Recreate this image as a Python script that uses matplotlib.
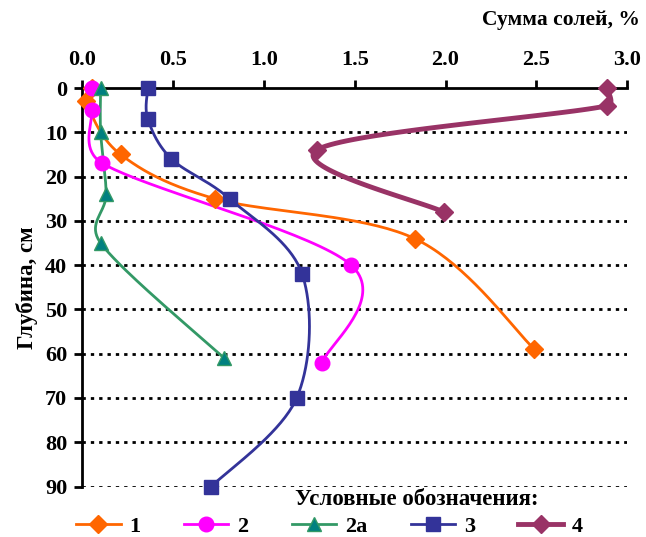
import numpy as np
import matplotlib
matplotlib.use('Agg')
import matplotlib.pyplot as plt
from matplotlib.lines import Line2D

plt.rcParams['font.family'] = ['Liberation Serif', 'DejaVu Serif']
plt.rcParams['font.weight'] = 'bold'

# данные: сумма солей (%) и глубина (см)
x1 = [0.05, 0.02, 0.21, 0.73, 1.83, 2.49]
d1 = [0, 3, 15, 25, 34, 59]
x2 = [0.05, 0.05, 0.11, 1.48, 1.32]
d2 = [0, 5, 17, 40, 62]
x2a = [0.10, 0.10, 0.13, 0.10, 0.78]
d2a = [0, 10, 24, 35, 61]
x3 = [0.36, 0.36, 0.49, 0.81, 1.21, 1.18, 0.71]
d3 = [0, 7, 16, 25, 42, 70, 90]
x4 = [2.89, 2.89, 1.29, 1.99]
d4 = [0, 4, 14, 28]

labels = ['1', '2', '2а', '3', '4']
x_ticks = [0.0, 0.5, 1.0, 1.5, 2.0, 2.5, 3.0]
y_ticks = [0, 10, 20, 30, 40, 50, 60, 70, 80, 90]


def smooth(x, y, sx=181.6, sy=4.43, n=40, clamp=0.5):
    # сглаживание как в Excel: Безье по Катмуллу-Рому,
    # ручки не длиннее половины отрезка
    pts = np.column_stack([np.asarray(x) * sx, np.asarray(y) * sy])
    m = len(pts)
    tang = np.array([(pts[min(i + 1, m - 1)] - pts[max(i - 1, 0)]) / 6 for i in range(m)])
    t = np.linspace(0, 1, n)[:, None]
    out = []
    for i in range(m - 1):
        p1, p2 = pts[i], pts[i + 1]
        L = np.hypot(*(p2 - p1))
        h1, h2 = tang[i].copy(), tang[i + 1].copy()
        for h in (h1, h2):
            nh = np.hypot(*h)
            if nh > clamp * L:
                h *= clamp * L / nh
        c1 = p1 + h1
        c2 = p2 - h2
        seg = (1 - t) ** 3 * p1 + 3 * (1 - t) ** 2 * t * c1 + 3 * (1 - t) * t ** 2 * c2 + t ** 3 * p2
        out.append(seg)
    out = np.vstack(out)
    return out[:, 0] / sx, out[:, 1] / sy


fig = plt.figure(figsize=(6.46, 5.37), dpi=100)
ax = fig.add_axes([0.1277, 0.094, 0.843, 0.742])

styles = [
    (x1, d1, '#FF6600', 'D', '#FF6600', '#FF6600', 2.0, 9),
    (x2, d2, '#FF00FF', 'o', '#FF00FF', '#FF00FF', 2.0, 10.5),
    (x2a, d2a, '#339966', '^', '#008080', '#339966', 2.0, 10.5),
    (x3, d3, '#333399', 's', '#333399', '#333399', 2.0, 10),
    (x4, d4, '#993366', 'D', '#993366', '#993366', 3.5, 9),
]

handles = []
for (xs, ds, c, m, fc, ec, lw, ms), lab in zip(styles, labels):
    sx_, sy_ = smooth(xs, ds)
    ax.plot(sx_, sy_, color=c, lw=lw, zorder=3, clip_on=False)
    ax.plot(xs, ds, ls='none', marker=m, ms=ms, mfc=fc, mec=ec, zorder=4, clip_on=False)
    handles.append(Line2D([], [], color=c, lw=lw, marker=m, ms=ms, mfc=fc, mec=ec))

for yv in y_ticks[1:]:
    ax.axhline(yv, color='black', ls=(0, (1.2, 1.8)), lw=2, zorder=1)

ax.set_xlim(0, 3.0)
ax.set_ylim(90, 0)
ax.xaxis.tick_top()
ax.set_xticks(x_ticks)
ax.set_xticklabels(['%.1f' % v for v in x_ticks])
ax.set_yticks(y_ticks)
ax.tick_params(axis='both', direction='out', length=6, width=2, labelsize=16, pad=5)
ax.tick_params(axis='x', pad=7)
for s in ['right', 'bottom']:
    ax.spines[s].set_visible(False)
for s in ['top', 'left']:
    ax.spines[s].set_linewidth(2)

ax.set_ylabel('Глубина, см', fontsize=16.5, fontweight='bold', labelpad=5)
fig.text(0.99, 0.963, 'Сумма солей, %', ha='right', va='center', fontsize=15.5, fontweight='bold')
fig.text(0.645, 0.069, 'Условные обозначения:', ha='center', va='center', fontsize=16.5, fontweight='bold')

fig.legend(handles, labels, loc='center', bbox_to_anchor=(0.51, 0.019), ncol=5, frameon=False,
           fontsize=16, handlelength=2.0, columnspacing=1.95, handletextpad=0.4, borderpad=0)

fig.savefig('out.png', dpi=100)
